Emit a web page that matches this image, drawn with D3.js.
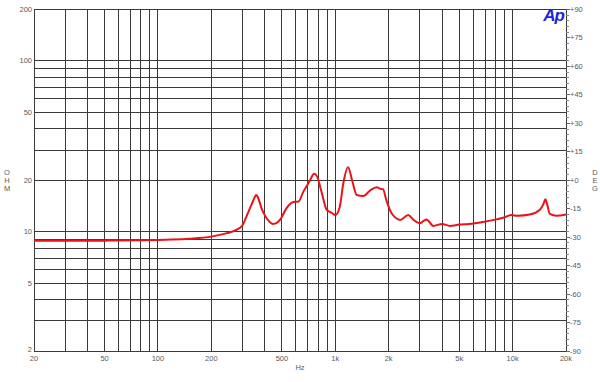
<!DOCTYPE html>
<html>
<head>
<meta charset="utf-8">
<script src="https://cdn.jsdelivr.net/npm/d3@7"></script>
<style>
  body { margin: 0; background: #fff; }
  svg { display: block; font-family: "Liberation Sans", Arial, sans-serif; }
  .grid line { stroke: #3a3a3a; stroke-width: 1; shape-rendering: crispEdges; }
  .lbl { fill: #5a5a5a; font-size: 7.5px; }
  .imp { fill: none; stroke: #e8141a; stroke-width: 2; }
</style>
</head>
<body>
<svg width="600" height="382"></svg>
<script>
// impedance curve
const freqs = [20, 30, 50, 80, 100, 120, 150, 200, 245, 280, 300, 318, 336, 350, 358, 366, 385, 400, 420, 445, 470, 490, 530, 580, 620, 660, 690, 720, 760, 790, 840, 895, 955, 1000, 1060, 1110, 1180, 1250, 1320, 1440, 1570, 1710, 1800, 1860, 1940, 2070, 2160, 2320, 2580, 2740, 3000, 3270, 3570, 4000, 4430, 5000, 5660, 6800, 8100, 8940, 9800, 10700, 12500, 14200, 15000, 15300, 15700, 16200, 17700, 20000];
const ohms = [8.85, 8.85, 8.86, 8.9, 8.95, 9.0, 9.1, 9.35, 9.8, 10.3, 10.9, 12.5, 14.3, 15.8, 16.4, 15.9, 13.6, 12.5, 11.6, 11.1, 11.3, 11.8, 13.7, 14.9, 15.0, 17.1, 18.5, 20.0, 21.8, 21.0, 16.8, 13.4, 12.9, 12.5, 14.0, 19.2, 23.8, 19.6, 16.4, 16.2, 17.4, 18.2, 17.8, 17.7, 15.3, 12.9, 12.2, 11.7, 12.5, 11.8, 11.2, 11.8, 10.8, 11.1, 10.8, 11.0, 11.1, 11.4, 11.8, 12.1, 12.5, 12.4, 12.6, 13.4, 14.7, 15.5, 14.3, 12.7, 12.4, 12.6];

const xTickLabels = ["20", "50", "100", "200", "500", "1k", "2k", "5k", "10k", "20k"];
const xTickValues = [20, 50, 100, 200, 500, 1000, 2000, 5000, 10000, 20000];
const yTickValues = [2, 5, 10, 20, 50, 100, 200];
const degTicks = [90, 75, 60, 45, 30, 15, 0, -15, -30, -45, -60, -75, -90];

const svg = d3.select("svg");
const pLeft = 34, pRight = 566, pTop = 9.5, pBottom = 351;

const x = d3.scaleLog().domain([20, 20000]).range([pLeft, pRight]);
const y = d3.scaleLog().domain([2, 200]).range([pBottom, pTop]);
const deg = d3.scaleLinear().domain([-90, 90]).range([pBottom, pTop]);

// grid lines at 1..9 per decade
const xGrid = [];
for (const d of [10, 100, 1000, 10000]) for (let k = 1; k < 10; k++) { const v = d * k; if (v >= 20 && v <= 20000) xGrid.push(v); }
xGrid.push(20000);
const yGrid = [];
for (const d of [1, 10, 100]) for (let k = 1; k < 10; k++) { const v = d * k; if (v >= 2 && v <= 200) yGrid.push(v); }
yGrid.push(200);

const grid = svg.append("g").attr("class", "grid");
grid.selectAll("line.v").data(xGrid).enter().append("line")
  .attr("class", "v")
  .attr("x1", d => x(d)).attr("x2", d => x(d))
  .attr("y1", pTop).attr("y2", pBottom);
grid.selectAll("line.h").data(yGrid).enter().append("line")
  .attr("class", "h")
  .attr("x1", pLeft).attr("x2", pRight)
  .attr("y1", d => y(d)).attr("y2", d => y(d));

// right degree axis with minor ticks
const degAxis = svg.append("g").attr("class", "grid");
degAxis.selectAll("line.minor").data(d3.range(-90, 91, 3)).enter().append("line")
  .attr("class", "minor")
  .attr("x1", pRight).attr("x2", pRight + 3)
  .attr("y1", d => deg(d)).attr("y2", d => deg(d))
  .style("stroke", "#888");
degAxis.selectAll("line.major").data(degTicks).enter().append("line")
  .attr("class", "major")
  .attr("x1", pRight).attr("x2", pRight + 4)
  .attr("y1", d => deg(d)).attr("y2", d => deg(d))
  .style("stroke", "#666");
svg.selectAll("text.deg").data(degTicks).enter().append("text")
  .attr("class", "lbl deg")
  .attr("x", pRight + 4)
  .attr("y", d => deg(d) + 2.5)
  .text(d => (d >= 0 ? "+" : "-") + Math.abs(d));

// left ohm labels
svg.selectAll("text.ohm").data(yTickValues).enter().append("text")
  .attr("class", "lbl ohm")
  .attr("x", pLeft - 2)
  .attr("y", d => y(d) + (d === 2 ? 1 : 2.5))
  .attr("text-anchor", "end")
  .text(d => d);

// x labels
svg.selectAll("text.hz").data(xTickValues).enter().append("text")
  .attr("class", "lbl hz")
  .attr("x", d => x(d))
  .attr("y", pBottom + 10)
  .attr("text-anchor", "middle")
  .text((d, i) => xTickLabels[i]);

svg.append("text").attr("class", "lbl")
  .attr("x", (pLeft + pRight) / 2).attr("y", 370)
  .attr("text-anchor", "middle").text("Hz");

["O", "H", "M"].forEach((c, i) => {
  svg.append("text").attr("class", "lbl")
    .attr("x", 7).attr("y", 175 + i * 8)
    .attr("text-anchor", "middle").text(c);
});
["D", "E", "G"].forEach((c, i) => {
  svg.append("text").attr("class", "lbl")
    .attr("x", 595).attr("y", 175 + i * 8)
    .attr("text-anchor", "middle").text(c);
});

// Ap logo
svg.append("text")
  .attr("x", 564).attr("y", 21)
  .attr("text-anchor", "end")
  .style("font-size", "17px").style("font-weight", "bold").style("font-style", "italic")
  .style("fill", "#1f1fe6")
  .style("letter-spacing", "-1px")
  .text("Ap");

// impedance curve
const pts = freqs.map((f, i) => [f, ohms[i]]);
const line = d3.line()
  .x(d => x(d[0]))
  .y(d => y(d[1]))
  .curve(d3.curveMonotoneX);
svg.append("path").datum(pts).attr("class", "imp").attr("d", line);
</script>
</body>
</html>
